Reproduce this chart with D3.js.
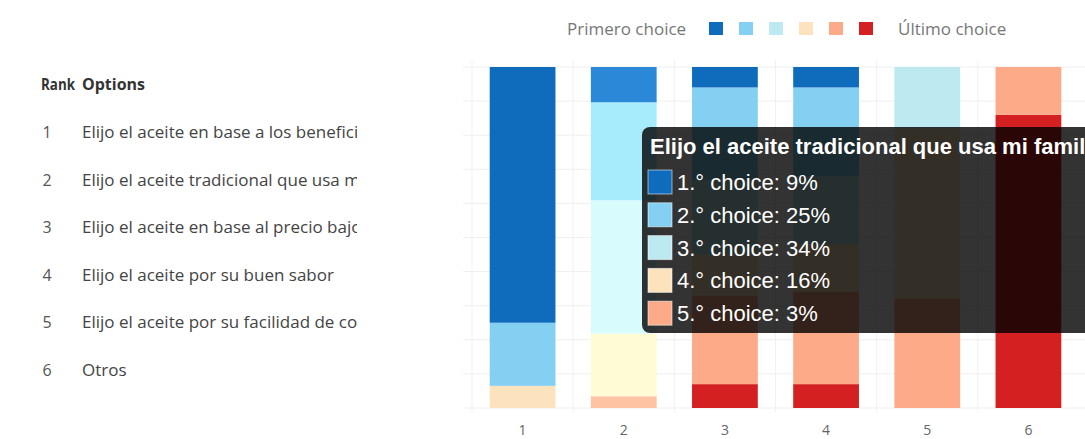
<!DOCTYPE html>
<html>
<head>
<meta charset="utf-8">
<script src="https://cdn.jsdelivr.net/npm/d3@7"></script>
<style>
  html, body { margin: 0; padding: 0; background: #fff; }
  svg { display: block; }
</style>
</head>
<body>
<svg id="chart" width="1085" height="439"></svg>
<script>
// ---------- data ----------
const categories = ["1", "2", "3", "4", "5", "6"];
const options = [
  "Elijo el aceite en base a los beneficios para la salud",
  "Elijo el aceite tradicional que usa mi familia",
  "Elijo el aceite en base al precio bajo",
  "Elijo el aceite por su buen sabor",
  "Elijo el aceite por su facilidad de compra",
  "Otros"
];
const rankLabels = ["1.° choice", "2.° choice", "3.° choice", "4.° choice", "5.° choice", "6.° choice"];
const choice1 = [75, 9, 6, 6, 0, 0];
const choice2 = [18.5, 25, 27, 26, 0, 0];
const choice3 = [0, 34, 22, 20, 18, 0];
const choice4 = [6.5, 16, 12, 14, 50, 0];
const choice5 = [0, 3, 26, 27, 32, 14];
const choice6 = [0, 0, 7, 7, 0, 86];
const legendLabels = ["Primero choice", "Último choice"];
const hoveredIndex = 1;

// ---------- style ----------
const colors = ["#0f6cbd", "#83d0f2", "#bde9f0", "#fde3bd", "#fcaa88", "#d42020"];
const hoverColors = ["#2b88d8", "#a6ecfc", "#d8fbfd", "#fffbd5", "#fdc3a3", "#e04a40"];
const uiFont = "'Segoe UI', 'Open Sans', sans-serif";

const series = [choice1, choice2, choice3, choice4, choice5, choice6];
const keys = rankLabels;
const rows = categories.map((c, i) => {
  const o = { cat: c };
  keys.forEach((k, j) => o[k] = series[j][i]);
  return o;
});

const svg = d3.select("#chart");

const x = d3.scaleBand().domain(categories).range([472, 1079]).paddingInner(0.35).paddingOuter(0.175);
const y = d3.scaleLinear().domain([0, 1]).range([408, 67]);

// grid
const grid = svg.append("g");
grid.selectAll("line.h").data(d3.range(0, 1.0001, 0.1)).join("line")
  .attr("x1", 463).attr("x2", 1085)
  .attr("y1", d => y(d)).attr("y2", d => y(d))
  .attr("stroke", "#efefef").attr("stroke-width", 1);
grid.selectAll("line.v").data(categories).join("line")
  .attr("x1", d => x(d) - x.step() * x.paddingInner() / 2)
  .attr("x2", d => x(d) - x.step() * x.paddingInner() / 2)
  .attr("y1", 60).attr("y2", 412)
  .attr("stroke", "#f1f1f1").attr("stroke-width", 1);

// stacked bars (top = first choice)
const stack = d3.stack().keys(keys.slice().reverse()).offset(d3.stackOffsetExpand);
const stacked = stack(rows);
svg.append("g").selectAll("g").data(stacked).join("g")
  .each(function (s) {
    const j = keys.indexOf(s.key);
    d3.select(this).selectAll("rect").data(s).join("rect")
      .attr("x", d => x(d.data.cat))
      .attr("width", x.bandwidth())
      .attr("y", d => y(d[1]))
      .attr("height", d => Math.max(0, y(d[0]) - y(d[1])))
      .attr("fill", (d, i) => i === hoveredIndex ? hoverColors[j] : colors[j]);
  });

// x axis labels
const xAxis = svg.append("g").attr("transform", "translate(0,414)")
  .call(d3.axisBottom(x).tickSize(0).tickPadding(11));
xAxis.select(".domain").remove();
xAxis.selectAll("text").attr("font-family", uiFont).attr("font-size", 14).attr("fill", "#666");

// legend
const lg = svg.append("g");
lg.append("text").attr("x", 567).attr("y", 35).text(legendLabels[0])
  .attr("font-family", uiFont).attr("font-size", 17).attr("fill", "#777");
lg.selectAll("rect").data(colors).join("rect")
  .attr("x", (d, i) => 709 + i * 30).attr("y", 22).attr("width", 14).attr("height", 13)
  .attr("fill", d => d);
lg.append("text").attr("x", 898).attr("y", 35).text(legendLabels[1])
  .attr("font-family", uiFont).attr("font-size", 17).attr("fill", "#777");

// left table
const tbl = svg.append("g").attr("font-family", uiFont);
tbl.append("text").attr("x", 41).attr("y", 90).text("Rank")
  .attr("font-weight", "bold").attr("font-size", 15.5).attr("fill", "#333")
  .attr("textLength", 34).attr("lengthAdjust", "spacingAndGlyphs");
tbl.append("text").attr("x", 82).attr("y", 90).text("Options")
  .attr("font-weight", "bold").attr("font-size", 16).attr("fill", "#333");
svg.append("clipPath").attr("id", "optclip").append("rect")
  .attr("x", 0).attr("y", 0).attr("width", 357).attr("height", 439);
const rowY = d3.scalePoint().domain(categories).range([138, 376]);
tbl.selectAll("text.num").data(categories).join("text")
  .attr("class", "num")
  .attr("x", 47).attr("y", d => rowY(d)).attr("text-anchor", "middle")
  .attr("font-size", 16).attr("fill", "#555").text(d => d);
tbl.append("g").attr("clip-path", "url(#optclip)")
  .selectAll("text").data(options).join("text")
  .attr("x", 82).attr("y", (d, i) => rowY(categories[i]))
  .attr("font-size", 17).attr("fill", "#444").text(d => d);

// tooltip for hovered bar
const tipItems = keys.map((k, j) => ({ label: k, value: series[j][hoveredIndex], color: colors[j] }))
  .filter(d => d.value > 0);
const tip = svg.append("g").attr("font-family", "'Liberation Sans', Arial, sans-serif");
tip.append("rect").attr("x", 642).attr("y", 127).attr("width", 460).attr("height", 206)
  .attr("rx", 8).attr("fill", "rgba(0,0,0,0.8)");
tip.append("text").attr("x", 650).attr("y", 154).text(options[hoveredIndex])
  .attr("font-weight", "bold").attr("font-size", 22).attr("fill", "#fff");
const tipRow = tip.selectAll("g.row").data(tipItems).join("g").attr("class", "row")
  .attr("transform", (d, i) => `translate(0,${182 + i * 32.8})`);
tipRow.append("rect").attr("x", 648).attr("y", -12).attr("width", 24).attr("height", 24)
  .attr("fill", d => d.color).attr("stroke", "rgba(255,255,255,0.55)").attr("stroke-width", 1);
tipRow.append("text").attr("x", 677).attr("y", 8)
  .attr("font-size", 22).attr("fill", "#fff")
  .text(d => `${d.label}: ${d.value}%`);
</script>
</body>
</html>
